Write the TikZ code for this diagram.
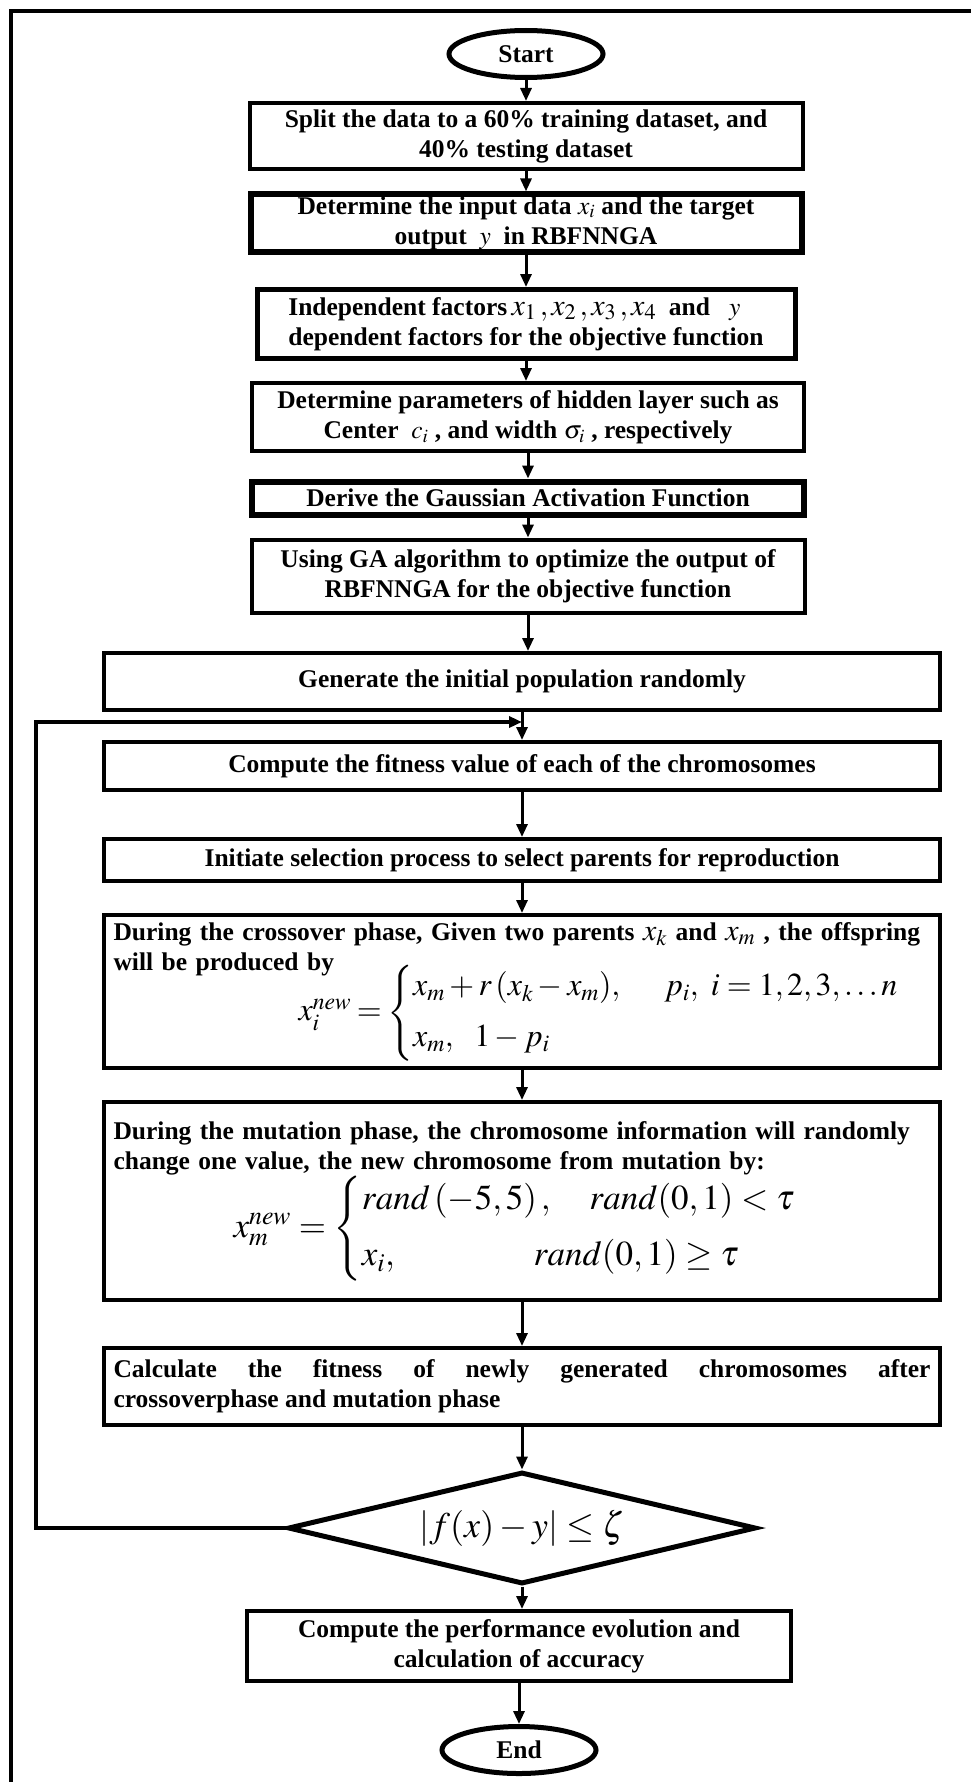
\documentclass[tikz,border=0pt]{standalone}
\usepackage{amsmath}
\usepackage{mathptmx}
\usepackage{fontspec}
\setmainfont{Liberation Serif}
\usetikzlibrary{shapes.geometric,arrows.meta}

\begin{document}
\begin{tikzpicture}[x=1pt, y=-1pt, >={Triangle[length=13pt,width=11pt]},
  font=\fontsize{25.5}{30}\selectfont\bfseries,
  box/.style={draw, line width=4pt, align=center, inner sep=2pt},
  tbox/.style={box, line width=6pt},
  wbox/.style={box, text width=817pt, inner xsep=9.5pt},
  term/.style={draw, ellipse, line width=5pt, minimum width=154pt, minimum height=47pt, inner sep=0pt},
  arr/.style={->, line width=3pt}]

\useasboundingbox (0,0) rectangle (970,1782);

% Rahmen
\draw[line width=4pt] (11,1800) -- (11,11) -- (980,11);

\node[term] (start) at (526,54) {Start};
\node[box, minimum width=553pt, minimum height=66pt] (split) at (526,136)
  {Split the data to a 60\% training dataset, and\\40\% testing dataset};
\node[tbox, minimum width=551pt, minimum height=56pt] (inp) at (526,223)
  {Determine the input data $x_{i}$ and the target\\output \ $y$ \ in RBFNNGA};
\node[tbox, line width=5pt, align=left, minimum width=538pt, minimum height=69pt] (indep) at (526,324)
  {Independent factors\,{\fontsize{30}{30}\selectfont$x_1\,,x_2\,,x_3\,,x_4$}\ \ and \ \ $y$\\dependent factors for the objective function};
\node[box, minimum width=552pt, minimum height=68pt] (param) at (528,417)
  {Determine parameters of hidden layer such as\\Center \ $c_i$ , and width $\sigma_i$ , respectively};
\node[tbox, minimum width=552pt, minimum height=33pt] (gauss) at (528,498)
  {Derive the Gaussian Activation Function};
\node[box, minimum width=553pt, minimum height=73pt] (usega) at (528,576)
  {Using GA algorithm to optimize the output of\\RBFNNGA for the objective function};

\node[box, minimum width=836pt, minimum height=57pt] (gen) at (522,681.5)
  {Generate the initial population randomly};
\node[box, minimum width=836pt, minimum height=48pt] (fit) at (522,766)
  {Compute the fitness value of each of the chromosomes};
\node[box, minimum width=836pt, minimum height=42pt] (sel) at (522,860)
  {Initiate selection process to select parents for reproduction};
\node[wbox, align=left, minimum height=153pt] (cross) at (522,991.5)
  {During the crossover phase, Given two parents {\fontsize{30}{30}\selectfont$x_k$} and {\fontsize{30}{30}\selectfont$x_m$} , the offspring\\
   will be produced by\\[-12pt]
   \hspace*{185pt}{\fontsize{32}{36}\selectfont$x_i^{new}=\begin{cases}x_m+r\,(x_k-x_m),\quad\ p_i,\ i=1,2,3,\ldots n\\[8pt] x_m,\ \ 1-p_i\end{cases}$}};
\node[wbox, align=left, minimum height=198pt] (mut) at (522,1201)
  {During the mutation phase, the chromosome information will randomly\\
   change one value, the new chromosome from mutation by:\\[0pt]
   \hspace*{120pt}{\fontsize{35}{40}\selectfont$x_m^{new}=\begin{cases}rand\left(-5,5\right),\quad rand(0,1)<\tau\\[8pt] x_i,\hspace{135pt}rand(0,1)\ge\tau\end{cases}$}};
\node[wbox, align=justify, minimum height=77pt] (calc) at (522,1386.5)
  {Calculate the fitness of newly generated chromosomes after\linebreak crossoverphase and mutation phase};
\node[draw, diamond, aspect=4.04, line width=5pt, minimum width=468pt, minimum height=112pt, inner sep=0pt] (dec) at (522,1528)
  {\fontsize{36}{40}\selectfont$\left|f(x)-y\right|\le\zeta$};

\node[box, minimum width=544pt, minimum height=70pt] (perf) at (519,1646)
  {Compute the performance evolution and\\calculation of accuracy};
\node[term] (end) at (519,1750) {End};

% Pfeile
\foreach \a/\b in {start/split, split/inp, inp/indep, indep/param, param/gauss, gauss/usega,
  usega/gen, gen/fit, fit/sel, sel/cross, cross/mut, mut/calc, calc/dec, dec/perf, perf/end}{
  \draw[arr] (\a) -- (\a |- \b.north);
}

% Rueckfuehrung
\coordinate (back) at (36,1528);
\coordinate (join) at (522,722);
\draw[arr, line width=4pt] (dec.west) -- (back) |- (join);
\end{tikzpicture}
\end{document}
